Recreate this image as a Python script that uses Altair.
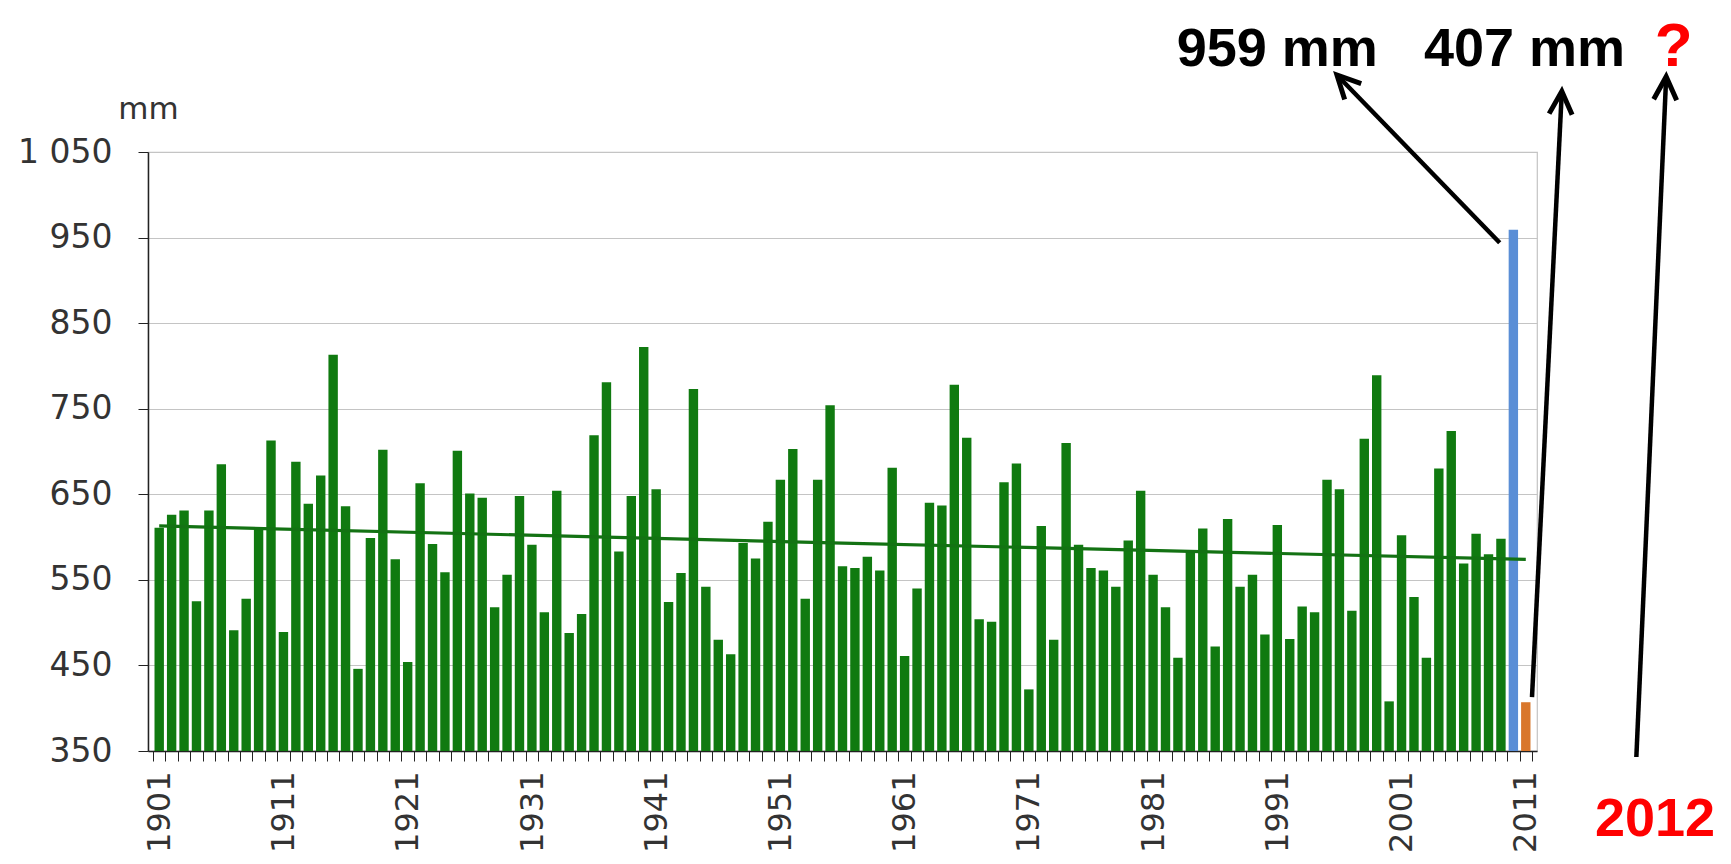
import altair as alt
import pandas as pd

# ---------------- data ----------------
years = list(range(1901, 2012))
precip_mm = [
    611, 626, 631, 525, 631, 685, 491, 528, 609, 713,   # 1901-1910
    489, 688, 639, 672, 813, 636, 446, 599, 702, 574,   # 1911-1920
    454, 663, 592, 559, 701, 651, 646, 518, 556, 648,   # 1921-1930
    591, 512, 654, 488, 510, 719, 781, 583, 648, 822,   # 1931-1940
    656, 524, 558, 773, 542, 480, 463, 593, 575, 618,   # 1941-1950
    667, 703, 528, 667, 754, 566, 564, 577, 561, 681,   # 1951-1960
    461, 540, 640, 637, 778, 716, 504, 501, 664, 686,   # 1961-1970
    422, 613, 480, 710, 591, 564, 561, 542, 596, 654,   # 1971-1980
    556, 518, 459, 585, 610, 472, 621, 542, 556, 486,   # 1981-1990
    614, 481, 519, 512, 667, 656, 514, 715, 789, 408,   # 1991-2000
    602, 530, 459, 680, 724, 569, 604, 580, 598, 959,   # 2001-2010
    407,                                                # 2011
]
groups = ["past"] * 109 + ["2010", "2011"]

trend_years = [1901, 1956, 2011]
trend_mm = [613, 593, 574]

ann_text = ["959 mm", "407 mm", "?", "2012"]
ann_year = [1991.0, 2010.9, 2022.9, 2021.4]
ann_mm = [1150, 1150, 1150, 251]
ann_kind = ["value", "value", "question", "question"]

arrow_from_year = [2008.9, 2011.5, 2019.9]
arrow_from_mm = [944, 413, 343]
arrow_to_year = [1995.8, 2013.9, 2022.3]
arrow_to_mm = [1140, 1121, 1138]
arrow_angle = [316, 3, 2.5]

# ---------------- tables ----------------
bars_df = pd.DataFrame({"year": years, "mm": precip_mm, "group": groups})
trend_df = pd.DataFrame({"year": trend_years, "mm": trend_mm})
ann_df = pd.DataFrame({"text": ann_text, "year": ann_year, "mm": ann_mm, "kind": ann_kind})
arrow_df = pd.DataFrame({
    "x1": arrow_from_year, "y1": arrow_from_mm,
    "x2": arrow_to_year, "y2": arrow_to_mm, "ang": arrow_angle,
})

# ---------------- scales / axes ----------------
xscale = alt.Scale(domain=[1900.5, 2011.5], nice=False, zero=False)
yscale = alt.Scale(domain=[350, 1050], nice=False, zero=False)

tick_vals = [1900.5 + i for i in range(112)]
x_axis = alt.Axis(
    values=tick_vals,
    labelExpr="(datum.value - 1900.5) % 10 == 0 ? format(datum.value + 0.5, 'd') : ''",
    labelAngle=270,
    labelOffset=6.3,
    labelFlush=False,
    labelOverlap=False,
    labelBound=False,
    labelPadding=10,
    labelFont="DejaVu Sans",
    labelFontSize=32,
    labelColor="#333333",
    tickSize=10,
    tickColor="#222222",
    domainColor="#222222",
    domainWidth=1.5,
    grid=False,
    title=None,
)
y_axis = alt.Axis(
    values=[350, 450, 550, 650, 750, 850, 950, 1050],
    labelExpr="replace(format(datum.value, ','), ',', ' ')",
    labelFont="DejaVu Sans",
    labelFontSize=33,
    labelColor="#333333",
    labelPadding=26,
    tickSize=10,
    tickColor="#222222",
    domainColor="#222222",
    domainWidth=1.5,
    gridColor="#c4c4c4",
    gridWidth=1.2,
    title="mm",
    titleAngle=0,
    titleX=0,
    titleY=-34,
    titleAlign="center",
    titleBaseline="alphabetic",
    titleFont="DejaVu Sans",
    titleFontSize=31,
    titleFontWeight="normal",
    titleColor="#333333",
)

bars = alt.Chart(bars_df).mark_bar(width=9.4).encode(
    x=alt.X("year:Q", scale=xscale, axis=x_axis),
    y=alt.Y("mm:Q", scale=yscale, axis=y_axis),
    y2=alt.datum(350),
    color=alt.Color(
        "group:N",
        scale=alt.Scale(domain=["past", "2010", "2011"],
                        range=["#107a10", "#5a8ed6", "#d9772c"]),
        legend=None,
    ),
)

trend = alt.Chart(trend_df).mark_line(color="#137213", strokeWidth=3.2).encode(
    x=alt.X("year:Q", scale=xscale, axis=x_axis),
    y=alt.Y("mm:Q", scale=yscale, axis=y_axis),
)

arrows = alt.Chart(arrow_df).mark_rule(color="black", strokeWidth=4.5, clip=False).encode(
    x=alt.X("x1:Q", scale=xscale, axis=x_axis),
    y=alt.Y("y1:Q", scale=yscale, axis=y_axis),
    x2="x2:Q",
    y2="y2:Q",
)

heads = alt.Chart(arrow_df).mark_point(
    shape="M -0.5 1 L 0 0 L 0.5 1",
    filled=False,
    color="black",
    strokeWidth=5,
    strokeJoin="miter",
    size=2116,
    opacity=1,
    clip=False,
).encode(
    x=alt.X("x2:Q", scale=xscale, axis=x_axis),
    y=alt.Y("y2:Q", scale=yscale, axis=y_axis),
    angle=alt.Angle("ang:Q", scale=None),
)

texts = alt.Chart(ann_df).mark_text(
    font="Liberation Sans",
    fontWeight="bold",
    align="center",
    baseline="alphabetic",
    clip=False,
).encode(
    x=alt.X("year:Q", scale=xscale, axis=x_axis),
    y=alt.Y("mm:Q", scale=yscale, axis=y_axis),
    text="text:N",
    size=alt.condition(alt.datum.text == "?", alt.value(62), alt.value(54)),
    color=alt.Color("kind:N",
                    scale=alt.Scale(domain=["value", "question"], range=["#000000", "#ff0000"]),
                    legend=None),
)

chart = alt.layer(bars, trend, arrows, heads, texts).resolve_scale(color="independent").properties(
    width=1389,
    height=599,
    autosize=alt.AutoSizeParams(type="none"),
    padding={"left": 140, "top": 144, "right": 180, "bottom": 104},
    background="white",
).configure_view(stroke="#c4c4c4", strokeWidth=1.2)

chart.save("out.html", embed_options={"renderer": "svg", "actions": False})
